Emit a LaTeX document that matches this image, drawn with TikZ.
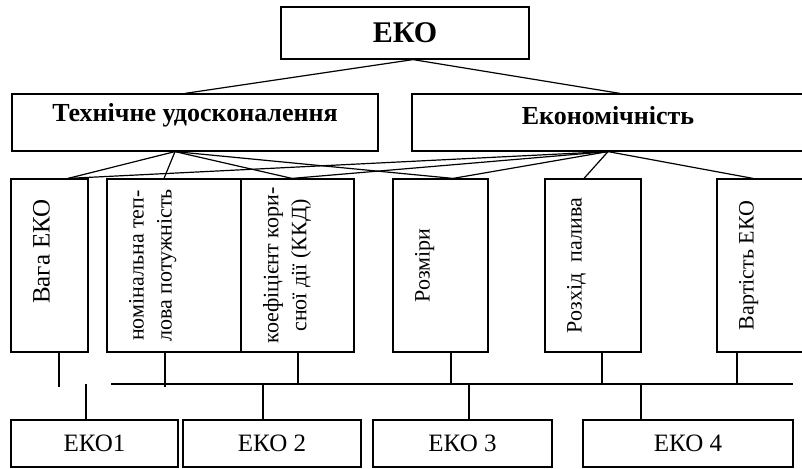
\documentclass[tikz,border=0pt]{standalone}
\usepackage{fontspec}
\setmainfont{Liberation Serif}

\begin{document}
\begin{tikzpicture}[x=1pt,y=-1pt,line width=1.2pt,
		box/.style={draw,inner sep=0pt},
		head/.style={font=\fontsize{26}{30}\selectfont\bfseries},
		vtext/.style={rotate=90,anchor=north,inner sep=0pt,align=center,font=\fontsize{22}{28}\selectfont},
		btext/.style={font=\fontsize{25}{30}\selectfont}]
		\clip (0,0) rectangle (802,468);
		%
		\node[box,head,font=\fontsize{30}{34}\selectfont\bfseries,minimum width=248pt,minimum height=52pt] (eko) at (405,33) {ЕКО};
		\node[box,minimum width=366pt,minimum height=57pt] (tech) at (195,122.5) {};
		\node[box,minimum width=392pt,minimum height=57pt] (econ) at (608,122.5) {};
		\node[head] at ([yshift=7pt]tech.center) {Технічне удосконалення};
		\node[head] at ([yshift=7pt]econ.center) {Економічність};
		\draw ([xshift=8pt]eko.south)--([xshift=-10pt]tech.north);
		\draw ([xshift=8pt]eko.south)--([xshift=12pt]econ.north);
		%
		\node[box,minimum width=77pt,minimum height=173pt] (vaga) at (49.5,265.5) {};
		\node[box,minimum width=134pt,minimum height=173pt] (nom) at (174,265.5) {};
		\node[box,minimum width=113pt,minimum height=173pt] (koef) at (297.5,265.5) {};
		\node[box,minimum width=95pt,minimum height=173pt] (rozm) at (440.5,265.5) {};
		\node[box,minimum width=96pt,minimum height=173pt] (rozh) at (593,265.5) {};
		\node[box,minimum width=93pt,minimum height=173pt] (vart) at (763.5,265.5) {};
		\node[vtext,font=\fontsize{25}{30}\selectfont] at ([xshift=22pt,yshift=14pt]vaga.west) {Вага ЕКО};
		\node[vtext] at ([xshift=22pt]nom.west) {номінальна теп-\\лова потужність};
		\node[vtext] at ([xshift=22pt]koef.west) {коефіцієнт кори-\\сної дії (ККД)};
		\node[vtext] at ([xshift=22pt]rozm.west) {Розміри};
		\node[vtext] at ([xshift=22pt]rozh.west) {Розхід~ палива};
		\node[vtext] at ([xshift=22pt]vart.west) {Вартість ЕКО};
		%
		\draw ([xshift=-20pt]tech.south)--([xshift=18.5pt]vaga.north);
		\draw ([xshift=-20pt]tech.south)--([xshift=-10pt]nom.north);
		\draw ([xshift=-20pt]tech.south)--([xshift=-5.5pt]koef.north);
		\draw ([xshift=-20pt]tech.south)--([xshift=12.5pt]rozm.north);
		\draw (econ.south)--([xshift=18.5pt]vaga.north);
		\draw (econ.south)--([xshift=-5.5pt]koef.north);
		\draw (econ.south)--([xshift=12.5pt]rozm.north);
		\draw (econ.south)--([xshift=-9pt]rozh.north);
		\draw (econ.south)--([xshift=-10.5pt]vart.north);
		%
		\coordinate (busL) at (111,384);
		\coordinate (busR) at (793,384);
		\draw (busL)--(busR);
		\draw ([xshift=9.5pt]vaga.south)--++(0,34);
		\draw ([xshift=-9pt]nom.south)--++(0,34);
		\draw ([xshift=0.5pt]koef.south)--++(0,32);
		\draw ([xshift=10.5pt]rozm.south)--++(0,32);
		\draw ([xshift=9pt]rozh.south)--++(0,32);
		\draw ([xshift=-26.5pt]vart.south)--++(0,32);
		%
		\node[box,btext,minimum width=167pt,minimum height=47pt] (eko1) at (94.5,443.5) {ЕКО1};
		\node[box,btext,minimum width=178pt,minimum height=47pt] (eko2) at (272,443.5) {ЕКО 2};
		\node[box,btext,minimum width=179pt,minimum height=47pt] (eko3) at (462.5,443.5) {ЕКО 3};
		\node[box,btext,minimum width=210pt,minimum height=47pt] (eko4) at (688,443.5) {ЕКО 4};
		\draw ([xshift=-8.5pt]eko1.north)--++(0,-35);
		\draw ([xshift=-9pt]eko2.north)--++(0,-36);
		\draw ([xshift=6.5pt]eko3.north)--++(0,-36);
		\draw ([xshift=-47pt]eko4.north)--++(0,-36);
	\end{tikzpicture}
\end{document}
